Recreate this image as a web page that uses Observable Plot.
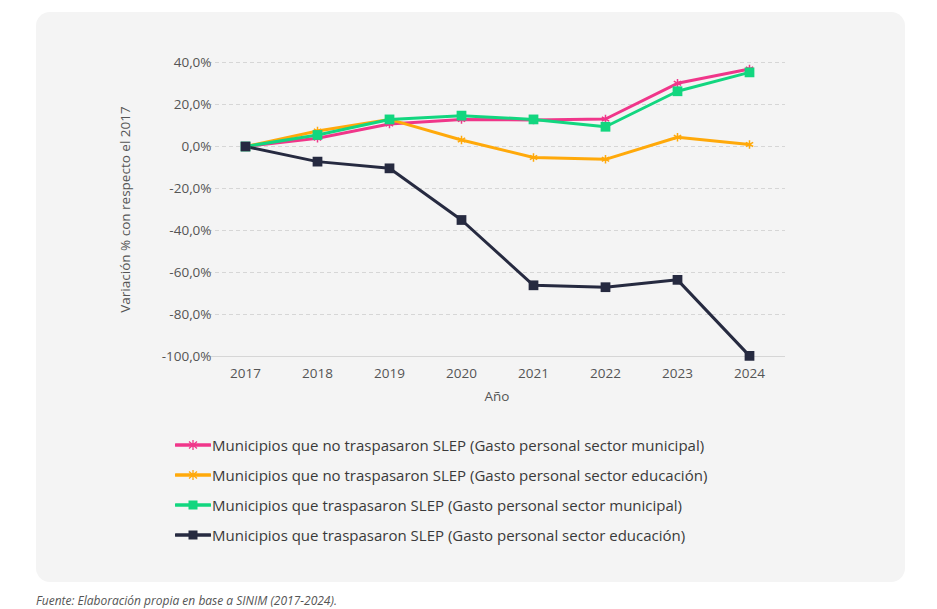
<!DOCTYPE html>
<html><head><meta charset="utf-8">
<script src="https://cdn.jsdelivr.net/npm/d3@7"></script>
<script src="https://cdn.jsdelivr.net/npm/@observablehq/plot@0.6"></script>
<style>
body{margin:0;background:#fff;font-family:"Open Sans",sans-serif;width:937px;height:609px;overflow:hidden;position:relative}
#card{position:absolute;left:36px;top:12px;width:869px;height:570px;background:#f4f4f4;border-radius:14px}
#chart{position:absolute;left:0;top:0}
#legend{position:absolute;left:175px;top:430px}
.li{display:flex;align-items:center;height:30px;font-size:15px;color:#3a3a3a}
.li svg{margin-right:1px}
#foot{position:absolute;left:36px;top:592px;font-size:12px;font-style:italic;color:#555}
</style></head><body>
<div id="card"></div>
<div id="chart"></div>
<div id="legend"></div>
<div id="foot">Fuente: Elaboración propia en base a SINIM (2017-2024).</div>
<script>
const years = ["2017","2018","2019","2020","2021","2022","2023","2024"];
const seriesNames = [
 "Municipios que no traspasaron SLEP (Gasto personal sector municipal)",
 "Municipios que no traspasaron SLEP (Gasto personal sector educación)",
 "Municipios que traspasaron SLEP (Gasto personal sector municipal)",
 "Municipios que traspasaron SLEP (Gasto personal sector educación)"];
const noTrasMunicipal = [0,3.9,10.7,12.9,12.6,13.1,30.1,36.9];
const noTrasEducacion = [0,7.4,12.9,3.1,-5.2,-6.1,4.4,1.0];
const trasMunicipal = [0,5.5,12.9,14.7,12.9,9.4,26.3,35.3];
const trasEducacion = [0,-7.2,-10.4,-35.0,-66.1,-67.0,-63.5,-99.7];
const yTicks = [-100,-80,-60,-40,-20,0,20,40];
const colors = ["#f0368a","#ffa90a","#12d67f","#262a40"];
const symbols = ["asterisk","asterisk","square","square"];
const allVals = [noTrasMunicipal,noTrasEducacion,trasMunicipal,trasEducacion];
const data = [];
allVals.forEach((vals,i)=>vals.forEach((v,j)=>data.push({year:years[j],value:v,s:seriesNames[i],i})));
const fmt = d => d.toFixed(1).replace(".",",")+"%";
const plot = Plot.plot({
  width:937,height:420,
  marginLeft:208,marginRight:152,marginTop:62,marginBottom:64,
  style:{background:"transparent",fontFamily:"Open Sans, sans-serif",fontSize:"13.5px",color:"#555"},
  x:{type:"point",domain:years,padding:0.5},
  y:{domain:[-100,40]},
  color:{domain:seriesNames,range:colors},
  symbol:{domain:seriesNames,range:symbols},
  marks:[
    Plot.ruleY(yTicks.filter(d=>d>-100),{stroke:"#d6d6d6",strokeDasharray:"4,3"}),
    Plot.ruleY([-100],{stroke:"#d6d6d6"}),
    Plot.axisY({ticks:yTicks,tickFormat:fmt,tickSize:0,textAnchor:"end",dx:12,label:"Variación % con respecto el 2017",labelAnchor:"center",labelArrow:false,labelOffset:88}),
    Plot.axisX({tickSize:0,tickPadding:12,label:"Año",labelAnchor:"center",labelArrow:false,labelOffset:44}),
    Plot.line(data,{x:"year",y:"value",stroke:"s",z:"s",strokeWidth:3}),
    Plot.dot(data.filter(d=>d.i<2),{x:"year",y:"value",stroke:"s",symbol:"s",r:4,strokeWidth:1.5}),
    Plot.dot(data.filter(d=>d.i>=2),{x:"year",y:"value",fill:"s",symbol:"s",r:5.5})
  ]
});
document.getElementById("chart").appendChild(plot);
const leg = document.getElementById("legend");
seriesNames.forEach((n,i)=>{
  const d=document.createElement("div");d.className="li";
  const mk = i<2
   ? `<path d="M18,4V14M14,5.5L22,12.5M14,12.5L22,5.5" stroke="${colors[i]}" stroke-width="1.3"/>`
   : `<rect x="13.5" y="4.5" width="9" height="9" fill="${colors[i]}"/>`;
  d.innerHTML=`<svg width="36" height="18"><line x1="1" x2="35" y1="9" y2="9" stroke="${colors[i]}" stroke-width="3.5" stroke-linecap="round"/>${mk}</svg><span>${n}</span>`;
  leg.appendChild(d);
});
</script>
</body></html>
